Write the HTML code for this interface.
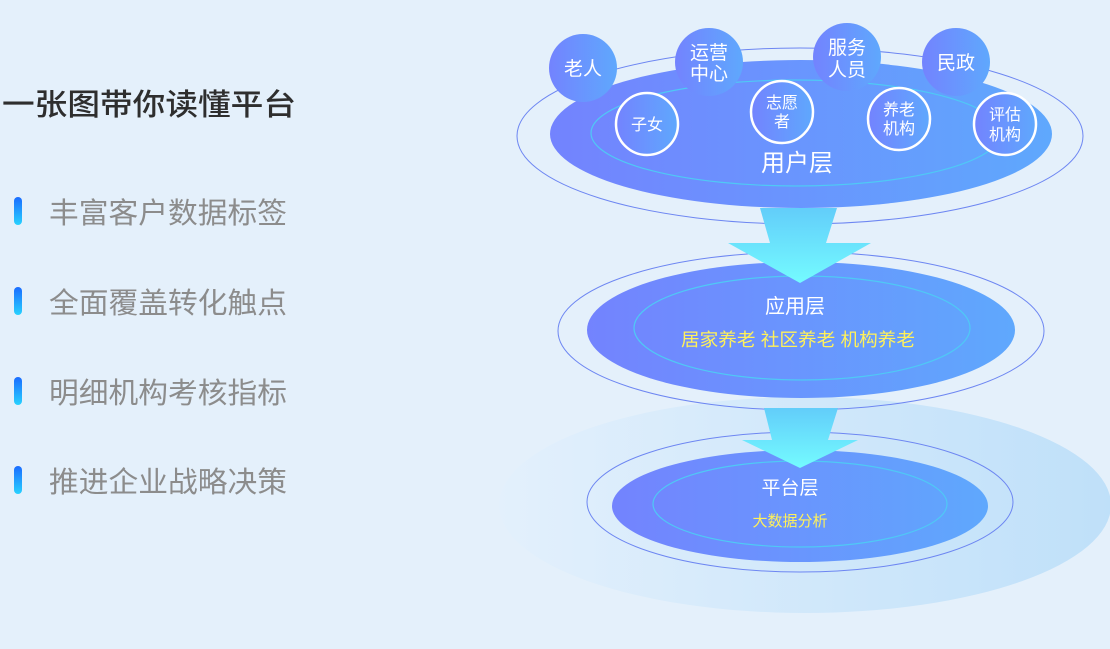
<!DOCTYPE html>
<html><head><meta charset="utf-8"><style>
html,body{margin:0;padding:0;background:#e4f0fb;}
svg{display:block;font-family:"Liberation Sans","Noto Sans CJK SC",sans-serif;}
</style></head><body>
<svg width="1110" height="649" viewBox="0 0 1110 649" xmlns="http://www.w3.org/2000/svg">
<defs>
<linearGradient id="bg" x1="0" x2="1"><stop offset="0" stop-color="#e3f0fc"/><stop offset="1" stop-color="#bfe0f9"/></linearGradient>
<linearGradient id="fill" x1="0" x2="1"><stop offset="0" stop-color="#7383fe"/><stop offset="1" stop-color="#5fa8fd"/></linearGradient>
<linearGradient id="arr" x1="0" y1="0" x2="0" y2="1"><stop offset="0" stop-color="#62cdfa"/><stop offset="1" stop-color="#74fbff"/></linearGradient>
<linearGradient id="bar" x1="0" y1="0" x2="0" y2="1"><stop offset="0" stop-color="#1a6cff"/><stop offset="1" stop-color="#28d2ff"/></linearGradient>
</defs>
<rect width="1110" height="649" fill="#e4f0fb"/>
<text x="2" y="115" font-size="30" fill="#2e2e2e" font-weight="500" textLength="294" lengthAdjust="spacingAndGlyphs">一张图带你读懂平台</text>
<g fill="url(#bar)">
<rect x="14" y="197" width="8" height="28" rx="4"/>
<rect x="14" y="287" width="8" height="28" rx="4"/>
<rect x="14" y="377" width="8" height="28" rx="4"/>
<rect x="14" y="466" width="8" height="28" rx="4"/>
</g>
<g font-size="29" fill="#8c8c8c">
<text x="49" y="223" textLength="238" lengthAdjust="spacingAndGlyphs">丰富客户数据标签</text>
<text x="49" y="313" textLength="238" lengthAdjust="spacingAndGlyphs">全面覆盖转化触点</text>
<text x="49" y="403" textLength="238" lengthAdjust="spacingAndGlyphs">明细机构考核指标</text>
<text x="49" y="492" textLength="238" lengthAdjust="spacingAndGlyphs">推进企业战略决策</text>
</g>

<ellipse cx="805" cy="505" rx="306" ry="108" fill="url(#bg)"/>

<ellipse cx="800" cy="502" rx="213" ry="70" fill="none" stroke="#6d86f2" stroke-width="1"/>
<ellipse cx="800" cy="506" rx="188" ry="56" fill="url(#fill)"/>
<ellipse cx="800" cy="504" rx="147" ry="43" fill="none" stroke="#4fc9f5" stroke-width="1.2"/>
<text x="790" y="494" font-size="19" fill="#fff" text-anchor="middle">平台层</text>
<text x="790" y="526" font-size="15" fill="#fff15a" text-anchor="middle">大数据分析</text>

<ellipse cx="801" cy="331" rx="243" ry="79" fill="none" stroke="#6d86f2" stroke-width="1"/>
<ellipse cx="801" cy="330" rx="214" ry="68" fill="url(#fill)"/>
<ellipse cx="802" cy="328" rx="168" ry="52" fill="none" stroke="#4fc9f5" stroke-width="1.2"/>
<text x="795" y="313" font-size="20" fill="#fff" text-anchor="middle">应用层</text>
<text x="681" y="346" font-size="18" fill="#fff15a" textLength="234" lengthAdjust="spacingAndGlyphs">居家养老 社区养老 机构养老</text>

<polygon points="764,408 838,408 828,440 858,440 800,468 742,440 772,440" fill="url(#arr)"/>

<ellipse cx="800" cy="136" rx="283" ry="88" fill="none" stroke="#6d86f2" stroke-width="1"/>
<ellipse cx="801" cy="134" rx="251" ry="74" fill="url(#fill)"/>
<ellipse cx="796" cy="133" rx="205" ry="53" fill="none" stroke="#4fc9f5" stroke-width="1.2"/>
<text x="797" y="171" font-size="24" fill="#fff" text-anchor="middle">用户层</text>

<polygon points="760,208 837,208 826,243 871,243 800,283 728,243 770,243" fill="url(#arr)"/>

<g fill="url(#fill)">
<circle cx="583" cy="68" r="34"/>
<circle cx="709" cy="62" r="34"/>
<circle cx="847" cy="57" r="34"/>
<circle cx="956" cy="62" r="34"/>
</g>
<g fill="url(#fill)" stroke="#fff" stroke-width="2.5">
<circle cx="647" cy="124" r="31"/>
<circle cx="782" cy="112" r="31"/>
<circle cx="899" cy="119" r="31"/>
<circle cx="1005" cy="124" r="31"/>
</g>
<g fill="#fff" text-anchor="middle" font-size="19">
<text x="583" y="75">老人</text>
<text x="709" y="59">运营</text><text x="709" y="80">中心</text>
<text x="847" y="54">服务</text><text x="847" y="76">人员</text>
<text x="956" y="69">民政</text>
</g>
<g fill="#fff" text-anchor="middle" font-size="16">
<text x="647" y="130">子女</text>
<text x="782" y="108">志愿</text><text x="782" y="127">者</text>
<text x="899" y="115">养老</text><text x="899" y="134">机构</text>
<text x="1005" y="120">评估</text><text x="1005" y="140">机构</text>
</g>
</svg>
</body></html>
